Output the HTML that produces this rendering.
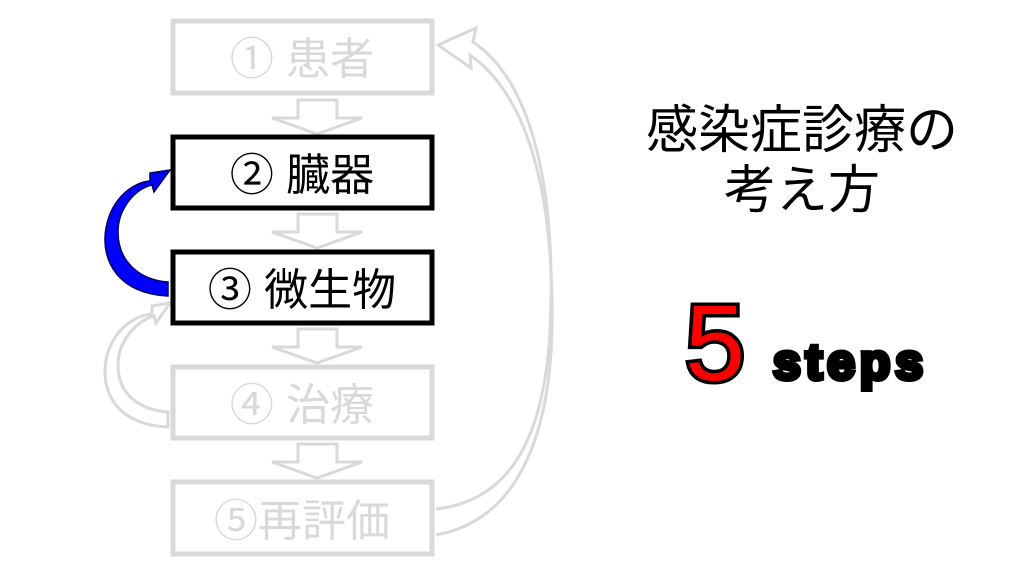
<!DOCTYPE html>
<html><head><meta charset="utf-8"><style>
body{margin:0;background:#fff;width:1024px;height:576px;overflow:hidden}
svg{display:block}
text{font-family:"Liberation Sans","Noto Sans CJK JP",sans-serif}
</style></head><body>
<svg width="1024" height="576" viewBox="0 0 1024 576">
<g fill="#fff" stroke="#d9d9d9" stroke-width="3">
<path d="M298,100 H337 V118 H362 L317,134 L272,118 H298 Z"/>
<path d="M298,214 H337 V232 H362 L317,248 L272,232 H298 Z"/>
<path d="M298,329 H337 V347 H362 L317,363 L272,347 H298 Z"/>
<path d="M298,444 H337 V462 H362 L317,478 L272,462 H298 Z"/>
<path d="M168,427 C120,425 100,395 106,360 C112,330 135,315 152,314 L152,306 L170,303 L156,323 L154,316 C138,320 118,340 118,365 C118,395 140,410 168,412 Z"/>
<path d="M436,535 C520,520 555,430 552,300 C550,170 520,90 470,55 L471,68 L438,45 L476,28 L473,42 C530,80 553,180 551,300 C550,420 520,500 436,509"/>
</g>
<path d="M168,296 C120,294 100,262 106,228 C112,196 135,182 150,181 L150,173 L170,170 L154,192 L152,185 C136,188 118,208 118,232 C118,262 140,280 168,282 Z" fill="#0000ff" stroke="#000060" stroke-width="1.5"/>
<g fill="#fff" stroke-width="5">
<rect x="173" y="21" width="259" height="72" stroke="#d9d9d9"/>
<rect x="173" y="137" width="259" height="71" stroke="#000"/>
<rect x="173" y="252" width="259" height="71" stroke="#000"/>
<rect x="173" y="367" width="259" height="71" stroke="#d9d9d9"/>
<rect x="173" y="482" width="259" height="72" stroke="#d9d9d9"/>
</g>
<g font-size="44" text-anchor="middle">
<text x="302" y="74" fill="#d9d9d9">① 患者</text>
<text x="302" y="190" fill="#000">② 臓器</text>
<text x="302" y="305" fill="#000">③ 微生物</text>
<text x="302" y="420" fill="#d9d9d9">④ 治療</text>
<text x="302" y="536" fill="#d9d9d9">⑤再評価</text>
</g>
<g font-size="52" text-anchor="middle" fill="#000">
<text x="802" y="148">感染症診療の</text>
<text x="802" y="208">考え方</text>
</g>
<text x="715" y="380" font-size="108" text-anchor="middle" fill="#ff0000" stroke="#000" stroke-width="7" paint-order="stroke">5</text>
<text x="848" y="379" font-size="50" font-weight="bold" text-anchor="middle" fill="#000" stroke="#000" stroke-width="5" paint-order="stroke" textLength="150">steps</text>
</svg>
</body></html>
